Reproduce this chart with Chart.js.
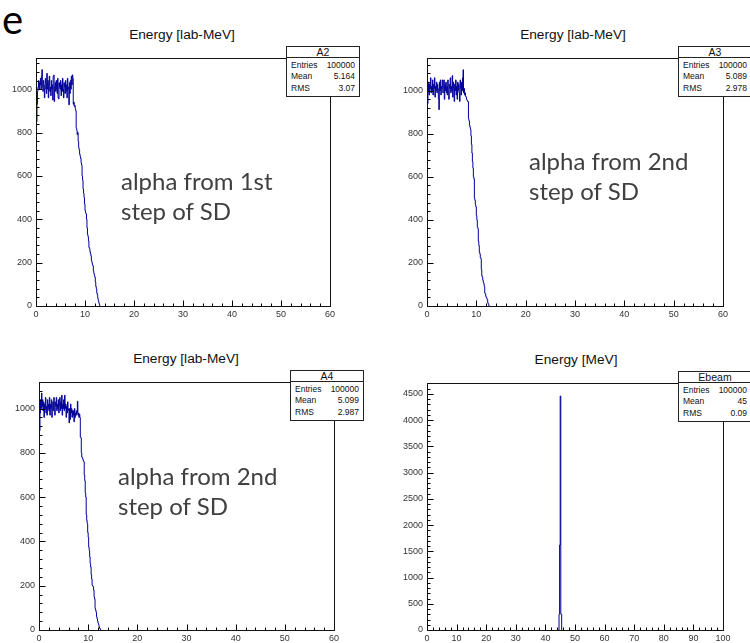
<!DOCTYPE html>
<html>
<head>
<meta charset="utf-8">
<script src="https://cdn.jsdelivr.net/npm/chart.js@4.4.1/dist/chart.umd.min.js"></script>
<style>
  body { margin: 0; width: 750px; height: 643px; overflow: hidden; background: #fff; position: relative; }
  canvas { position: absolute; }
  .tag { position: absolute; left: 2px; top: -5px; font: 40px/48px Lato, sans-serif; color: #000; }
  .title { position: absolute; width: 200px; text-align: center; font: 13.7px/16px "Liberation Sans", Arial, sans-serif; color: #111; }
  .note { position: absolute; font: 24px/30px Lato, sans-serif; color: #404040; white-space: nowrap; }
  .stats { position: absolute; width: 72px; border: 1px solid #222; background: #fff; font-family: "Liberation Sans", Arial, sans-serif; color: #111; }
  .stats .name { height: 10px; line-height: 11px; text-align: center; font-size: 10.5px; border-bottom: 1px solid #222; }
  .stats .rows { padding: 2px 4px 2px 4px; }
  .stats .row { display: flex; justify-content: space-between; height: 11.4px; line-height: 11.4px; font-size: 8.5px; }
</style>
</head>
<body>
<div class="tag">e</div>

<div class="title" style="left:82px;top:26.5px">Energy [lab-MeV]</div>
<div class="title" style="left:473px;top:26.5px">Energy [lab-MeV]</div>
<div class="title" style="left:86px;top:350.8px">Energy [lab-MeV]</div>
<div class="title" style="left:476px;top:351.5px">Energy [MeV]</div>

<canvas id="c1" width="346" height="277" style="left:-4px;top:49px"></canvas>
<canvas id="c2" width="348" height="277" style="left:387px;top:49px"></canvas>
<canvas id="c3" width="347" height="277" style="left:-1px;top:373px"></canvas>
<canvas id="c4" width="348" height="276" style="left:387px;top:374px"></canvas>

<div class="note" style="left:121px;top:166.4px">alpha from 1st<br>step of SD</div>
<div class="note" style="left:529px;top:146.4px">alpha from 2nd<br>step of SD</div>
<div class="note" style="left:118px;top:461.4px">alpha from 2nd<br>step of SD</div>

<div class="stats" id="s1" style="left:286px;top:46px"></div>
<div class="stats" id="s2" style="left:678px;top:46px"></div>
<div class="stats" id="s3" style="left:290px;top:370px"></div>
<div class="stats" id="s4" style="left:678px;top:371px"></div>

<script>
// bin width of the alpha spectra (MeV), counts start at 0 MeV
const energyBinWidth = 0.1;

// A2: alpha from 1st step of SD (one row per MeV)
const a2Counts = [
  720, 850, 930, 990, 1010, 1040, 1000, 1030, 1020, 1050,
  1000, 1060, 1090, 1010, 990, 1040, 1020, 960, 1000, 1050,
  1030, 980, 1073, 1000, 1040, 960, 1020, 1060, 990, 1010,
  970, 1040, 1000, 1020, 950, 1060, 1065, 943, 1010, 1030,
  990, 1040, 1000, 980, 1050, 960, 955, 1030, 1010, 1000,
  1040, 970, 1020, 990, 1050, 1000, 960, 1030, 1010, 980,
  1040, 990, 1020, 960, 1050, 1000, 1010, 928, 1030, 980,
  1040, 1000, 1060, 1020, 1066, 1050, 930, 940, 920, 925,
  910, 900, 820, 810, 790, 800, 760, 730, 720, 700,
  690, 680, 660, 650, 600, 580, 540, 520, 500, 470,
  440, 430, 425, 400, 360, 330, 320, 300, 270, 265,
  250, 240, 230, 210, 200, 190, 185, 160, 150, 140,
  133, 110, 90, 80, 60, 50, 35, 25, 15, 8
];

// A3: alpha from 2nd step of SD
const a3Counts = [
  830, 940, 1000, 1040, 980, 1030, 1010, 1060, 990, 1020,
  1000, 1050, 980, 1030, 1010, 1060, 970, 1020, 1000, 1040,
  990, 1030, 1010, 960, 912, 1040, 1000, 1050, 980, 1020,
  1010, 1050, 990, 1000, 1050, 960, 1030, 1000, 1040, 990,
  1020, 980, 1050, 1000, 960, 1030, 1010, 1060, 990, 1020,
  1000, 1070, 970, 1040, 1010, 950, 1030, 1000, 1050, 980,
  1020, 960, 1040, 1000, 1030, 990, 950, 1050, 1010, 980,
  1040, 1000, 1060, 1097, 990, 1010, 980, 990, 975, 970,
  960, 955, 950, 950, 870, 860, 840, 830, 820, 790,
  750, 710, 670, 640, 600, 590, 500, 490, 470, 460,
  420, 400, 365, 360, 300, 280, 250, 242, 225, 220,
  170, 140, 134, 120, 110, 103, 90, 60, 57, 45,
  40, 34, 30, 15, 8, 3
];

// A4: alpha from 2nd step of SD
const a4Counts = [
  816, 900, 980, 1040, 1000, 1070, 1010, 1040, 990, 1030,
  960, 1020, 1000, 1050, 980, 1010, 970, 1040, 1000, 1020,
  990, 1050, 970, 1020, 1000, 1040, 960, 1010, 1030, 990,
  1050, 1000, 970, 1030, 1010, 1050, 990, 1020, 1000, 1040,
  980, 1010, 1050, 990, 1030, 1000, 1060, 970, 1020, 1000,
  1040, 990, 1060, 1000, 1020, 960, 1010, 980, 1030, 1000,
  990, 935, 1000, 950, 1020, 980, 1000, 960, 990, 970,
  990, 940, 1000, 960, 980, 970, 990, 980, 1033, 970,
  980, 960, 975, 960, 870, 868, 800, 780, 778, 770,
  763, 760, 700, 674, 620, 600, 520, 494, 480, 440,
  419, 374, 360, 330, 300, 284, 250, 230, 202, 200,
  195, 180, 150, 140, 97, 90, 80, 60, 50, 40,
  30, 25, 15, 8, 5, 2
];

// Ebeam: narrow peak at 45 MeV (bin left edges, counts)
const ebeamEdges = [44.4, 44.6, 44.8, 45.0, 45.2, 45.5];
const ebeamCounts = [0, 300, 1620, 4460, 300, 0];

// tick labels
const alphaXTicks = [0, 10, 20, 30, 40, 50, 60];
const alphaYTicks = [0, 200, 400, 600, 800, 1000];
const ebeamXTicks = [0, 10, 20, 30, 40, 50, 60, 70, 80, 90, 100];
const ebeamYTicks = [0, 500, 1000, 1500, 2000, 2500, 3000, 3500, 4000, 4500];

// stats boxes
const statLabels = ["Entries", "Mean", "RMS"];
const statsA2 = ["100000", "5.164", "3.07"];
const statsA3 = ["100000", "5.089", "2.978"];
const statsA4 = ["100000", "5.099", "2.987"];
const statsEbeam = ["100000", "45", "0.09"];

const tickFont = { family: "'Liberation Sans', Arial, sans-serif", size: 9 };
const tickColor = "#333";

// frame + inward ticks, the ROOT way (one plugin per panel)
function rootFrame(p) {
    return {
        id: "rootFrame",
        afterDatasetsDraw(chart) {
            const ctx = chart.ctx;
            const a = chart.chartArea;
            const x = chart.scales.x;
            const y = chart.scales.y;
            const left = Math.round(a.left) + 0.5;
            const bottom = Math.round(a.bottom) + 0.5;

            ctx.save();
            ctx.strokeStyle = "#000";
            ctx.lineWidth = 1;
            ctx.beginPath();

            const nx = Math.round(p.xMax / p.xMinor);
            for (let i = 0; i <= nx; i++) {
                const v = i * p.xMinor;
                const px = Math.round(x.getPixelForValue(v)) + 0.5;
                const len = v % p.xMajor === 0 ? 6 : 3;
                ctx.moveTo(px, bottom);
                ctx.lineTo(px, bottom - len);
            }

            const ny = Math.floor(p.yMax / p.yMinor);
            for (let i = 0; i <= ny; i++) {
                const v = i * p.yMinor;
                const py = Math.round(y.getPixelForValue(v)) + 0.5;
                const len = v % p.yMajor === 0 ? 6 : 3;
                ctx.moveTo(left, py);
                ctx.lineTo(left + len, py);
            }
            ctx.stroke();

            ctx.strokeStyle = "#111";
            ctx.strokeRect(left, Math.round(a.top) + 0.5,
                Math.round(a.right) - Math.round(a.left), Math.round(a.bottom) - Math.round(a.top));
            ctx.restore();
        }
    };
}

function binPoints(counts, width) {
    const pts = counts.map((c, i) => ({ x: i * width, y: c }));
    pts.push({ x: counts.length * width, y: 0 });
    return pts;
}

function makePanel(id, points, p) {
    const canvas = document.getElementById(id);

    new Chart(canvas, {
        type: "line",
        data: {
            datasets: [{
                data: points,
                stepped: "before",
                borderColor: "#000099",
                borderWidth: 1,
                pointRadius: 0,
                fill: false
            }]
        },
        options: {
            responsive: false,
            animation: false,
            layout: { padding: { top: 8, right: 12, bottom: 2, left: 0 } },
            plugins: {
                legend: { display: false },
                tooltip: { enabled: false }
            },
            scales: {
                x: {
                    type: "linear",
                    min: 0,
                    max: p.xMax,
                    grid: { display: false, drawTicks: false },
                    border: { display: false },
                    ticks: { font: tickFont, color: tickColor, padding: 3, maxRotation: 0, autoSkip: false, callback: v => String(v) },
                    afterBuildTicks: s => { s.ticks = p.xTicks.map(v => ({ value: v })); },
                    afterFit: s => { s.height = 18; }
                },
                y: {
                    type: "linear",
                    min: 0,
                    max: p.yMax,
                    grid: { display: false, drawTicks: false },
                    border: { display: false },
                    ticks: { font: tickFont, color: tickColor, padding: 4, autoSkip: false, callback: v => String(v) },
                    afterBuildTicks: s => { s.ticks = p.yTicks.map(v => ({ value: v })); },
                    afterFit: s => { s.width = 40; }
                }
            }
        },
        plugins: [rootFrame(p)]
    });
}

function fillStats(id, name, values) {
    const box = document.getElementById(id);
    let html = `<div class="name">${name}</div><div class="rows">`;
    statLabels.forEach((label, i) => {
        html += `<div class="row"><span>${label}</span><span>${values[i]}</span></div>`;
    });
    box.innerHTML = html + "</div>";
}

const alphaAxes = { xMax: 60, xTicks: alphaXTicks, yTicks: alphaYTicks, xMajor: 10, xMinor: 2, yMajor: 200, yMinor: 40 };

makePanel("c1", binPoints(a2Counts, energyBinWidth), { ...alphaAxes, yMax: 1142 });
makePanel("c2", binPoints(a3Counts, energyBinWidth), { ...alphaAxes, yMax: 1150 });
makePanel("c3", binPoints(a4Counts, energyBinWidth), { ...alphaAxes, yMax: 1118 });

const ebeamPoints = ebeamEdges.map((e, i) => ({ x: e, y: ebeamCounts[i] }));
makePanel("c4", ebeamPoints, { xMax: 100, yMax: 4700, xTicks: ebeamXTicks, yTicks: ebeamYTicks, xMajor: 10, xMinor: 2, yMajor: 500, yMinor: 100 });

fillStats("s1", "A2", statsA2);
fillStats("s2", "A3", statsA3);
fillStats("s3", "A4", statsA4);
fillStats("s4", "Ebeam", statsEbeam);
</script>
</body>
</html>
